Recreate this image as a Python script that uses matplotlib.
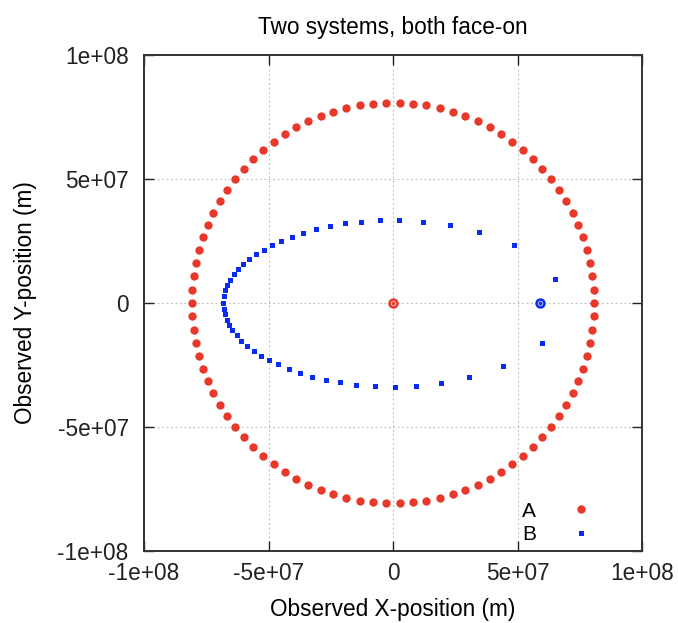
#!/usr/bin/env python3

import matplotlib
matplotlib.use('Agg')
import matplotlib.pyplot as plt

plt.rcParams['font.family'] = ['Liberation Sans', 'DejaVu Sans']

# positions in units of 1e6 m
a_x = [80.8, 80.6, 80.1, 79.2, 77.9, 76.3, 74.4, 72.1, 69.5, 66.6, 63.4, 59.9, 56.2, 52.2, 47.9, 43.5, 38.8, 34.0, 29.0, 23.9, 18.7, 13.4, 8.1, 2.7,
       -2.7, -8.1, -13.4, -18.7, -23.9, -29.0, -34.0, -38.8, -43.5, -47.9, -52.2, -56.2, -59.9, -63.4, -66.6, -69.5, -72.1, -74.4, -76.3, -77.9, -79.2, -80.1, -80.6,
       -80.8,
       -80.6, -80.1, -79.2, -77.9, -76.3, -74.4, -72.1, -69.5, -66.6, -63.4, -59.9, -56.2, -52.2, -47.9, -43.5, -38.8, -34.0, -29.0, -23.9, -18.7, -13.4, -8.1, -2.7,
       2.7, 8.1, 13.4, 18.7, 23.9, 29.0, 34.0, 38.8, 43.5, 47.9, 52.2, 56.2, 59.9, 63.4, 66.6, 69.5, 72.1, 74.4, 76.3, 77.9, 79.2, 80.1, 80.6]
a_y = [0.0, 5.4, 10.8, 16.1, 21.3, 26.5, 31.5, 36.4, 41.2, 45.7, 50.1, 54.2, 58.1, 61.7, 65.0, 68.1, 70.9, 73.3, 75.4, 77.2, 78.6, 79.7, 80.4, 80.8,
       80.8, 80.4, 79.7, 78.6, 77.2, 75.4, 73.3, 70.9, 68.1, 65.0, 61.7, 58.1, 54.2, 50.1, 45.7, 41.2, 36.4, 31.5, 26.5, 21.3, 16.1, 10.8, 5.4,
       0.0,
       -5.4, -10.8, -16.1, -21.3, -26.5, -31.5, -36.4, -41.2, -45.7, -50.1, -54.2, -58.1, -61.7, -65.0, -68.1, -70.9, -73.3, -75.4, -77.2, -78.6, -79.7, -80.4, -80.8,
       -80.8, -80.4, -79.7, -78.6, -77.2, -75.4, -73.3, -70.9, -68.1, -65.0, -61.7, -58.1, -54.2, -50.1, -45.7, -41.2, -36.4, -31.5, -26.5, -21.3, -16.1, -10.8, -5.4]

b_x = [64.9, 48.6, 34.6, 22.7, 12.2, 2.3, -5.3, -12.7, -19.2, -25.4, -30.9, -36.1, -40.7, -44.8, -48.6, -51.9, -55.0, -57.8, -60.1, -62.2, -64.0, -65.6, -66.6, -67.4, -68.0,
       -68.2,
       -68.0, -67.4, -66.8, -65.8, -64.5, -62.8, -60.9, -58.6, -55.9, -53.0, -49.8, -46.1, -41.9, -37.5, -32.7, -27.1, -21.2, -14.7, -7.3, 0.7, 9.3, 19.3, 30.7, 44.1, 60.0]
b_y = [9.7, 23.4, 28.6, 31.6, 32.8, 33.5, 33.3, 32.8, 32.1, 31.0, 29.7, 28.4, 26.8, 25.2, 23.4, 21.5, 19.6, 17.6, 15.6, 13.6, 11.5, 9.2, 7.4, 5.1, 2.7,
       0.0,
       -2.3, -4.4, -6.7, -9.0, -11.0, -13.1, -15.2, -17.3, -19.4, -21.2, -23.1, -24.8, -26.6, -28.1, -29.7, -30.9, -32.0, -32.9, -33.6, -33.7, -33.3, -32.3, -30.0, -25.6, -16.0]

# centres of mass of the two systems
com_x = [0.0, 59.2]
com_y = [0.0, 0.0]

scale = 1e6
red = '#e8382a'
blue = '#0a2cf2'

fig = plt.figure(figsize=(6.78, 6.23), dpi=100)
ax = fig.add_axes([0.2124, 0.1156, 0.7345, 0.7961])

ax.plot([v*scale for v in a_x], [v*scale for v in a_y], 'o', color=red, ms=6, mew=0, label='A')
ax.plot([v*scale for v in b_x], [v*scale for v in b_y], 's', color=blue, ms=3.6, mew=0, label='B')

cols = [red, blue]
for i in range(len(com_x)):
    ax.plot(com_x[i]*scale, com_y[i]*scale, 'o', color=cols[i], ms=7.5, mew=0)
    ax.plot(com_x[i]*scale, com_y[i]*scale, 'o', mfc='none', mec='white', ms=3.2, mew=0.7, alpha=0.7)

ax.set_xlim(-1e8, 1e8)
ax.set_ylim(-1e8, 1e8)
ticks = [-1e8, -5e7, 0, 5e7, 1e8]
labels = ['-1e+08', '-5e+07', '0', '5e+07', '1e+08']
ax.set_xticks(ticks)
ax.set_xticklabels(labels)
ax.set_yticks(ticks)
ax.set_yticklabels(labels)
ax.tick_params(direction='in', length=7, width=1, top=True, right=True, labelsize=16.3, colors='#222222')
ax.tick_params(axis='x', pad=8)
ax.tick_params(axis='y', pad=11)
ax.grid(True, linestyle=(0, (1.5, 2.5)), color='#bbbbbb', linewidth=0.8)
for s in ax.spines.values():
    s.set_linewidth(1.4)
    s.set_color('#333333')

ax.set_title('Two systems, both face-on', fontsize=16.3, pad=15)
ax.set_xlabel('Observed X-position (m)', fontsize=16.3, labelpad=9)
ax.set_ylabel('Observed Y-position (m)', fontsize=16.3, labelpad=15)

ax.legend(loc='lower right', bbox_to_anchor=(0.9357, -0.003), frameon=False, markerfirst=False, fontsize=15,
          handlelength=2, handletextpad=1.16, labelspacing=0.22, borderaxespad=0)

plt.savefig('out.png', dpi=100)
